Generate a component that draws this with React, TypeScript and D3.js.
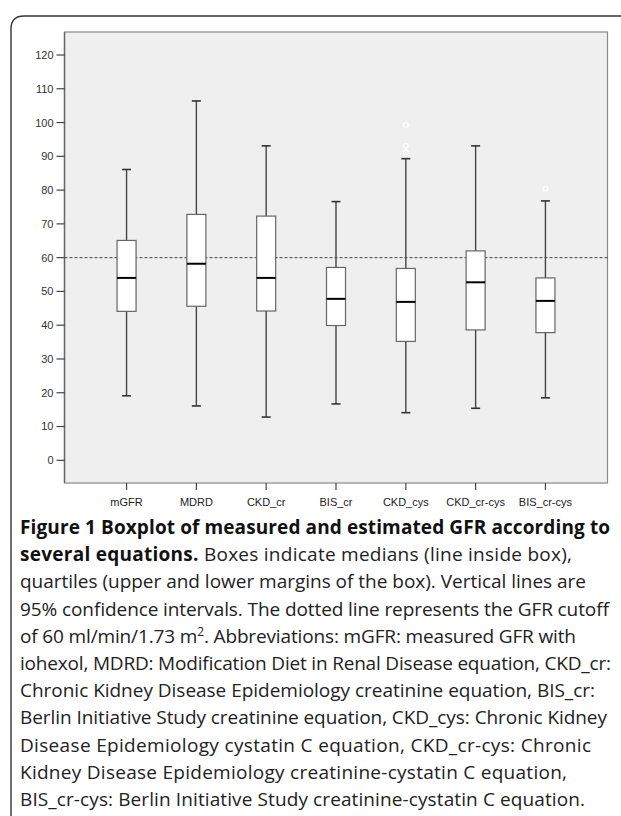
import React from "react";
import * as d3 from "d3";

const categories = ["mGFR", "MDRD", "CKD_cr", "BIS_cr", "CKD_cys", "CKD_cr-cys", "BIS_cr-cys"];
const whiskerLow = [19.1, 16.1, 12.8, 16.7, 14.1, 15.4, 18.5];
const q1 = [44.1, 45.6, 44.2, 39.9, 35.2, 38.6, 37.8];
const medians = [54.0, 58.2, 54.0, 47.8, 46.9, 52.7, 47.2];
const q3 = [65.1, 72.8, 72.3, 57.1, 56.8, 62.0, 54.0];
const whiskerHigh = [86.1, 106.4, 93.1, 76.6, 89.3, 93.1, 76.8];
const outlierCats = ["CKD_cys", "CKD_cys", "CKD_cys", "BIS_cr-cys"];
const outlierVals = [99.3, 93.1, 91.2, 80.4];
const yTicks = [0, 10, 20, 30, 40, 50, 60, 70, 80, 90, 100, 110, 120];
const cutoff = 60;

const captionLines: { bold?: string; text: string; sup?: string; after?: string }[] = [
  { bold: "Figure 1 Boxplot of measured and estimated GFR according to", text: "" },
  { bold: "several equations.", text: " Boxes indicate medians (line inside box)," },
  { text: "quartiles (upper and lower margins of the box). Vertical lines are" },
  { text: "95% confidence intervals. The dotted line represents the GFR cutoff" },
  { text: "of 60 ml/min/1.73 m", sup: "2", after: ". Abbreviations: mGFR: measured GFR with" },
  { text: "iohexol, MDRD: Modification Diet in Renal Disease equation, CKD_cr:" },
  { text: "Chronic Kidney Disease Epidemiology creatinine equation, BIS_cr:" },
  { text: "Berlin Initiative Study creatinine equation, CKD_cys: Chronic Kidney" },
  { text: "Disease Epidemiology cystatin C equation, CKD_cr-cys: Chronic" },
  { text: "Kidney Disease Epidemiology creatinine-cystatin C equation," },
  { text: "BIS_cr-cys: Berlin Initiative Study creatinine-cystatin C equation." },
];
const captionLineEnds = [610, 572, 586, 609, 576, 611, 595, 607, 591, 567, 585];

export default function App() {
  const W = 621;
  const H = 816;
  const plot = { left: 64.5, right: 607.5, top: 32, bottom: 483 };
  const y = d3.scaleLinear().domain([0, 120]).range([460.3, 55]);
  const x = d3.scalePoint<string>().domain(categories).range([plot.left, plot.right]).padding(0.889);
  const boxW = 19;
  const capW = 9;
  const axisFont = "'Liberation Sans', Arial, sans-serif";
  const capFont = "'Open Sans', 'Noto Sans', sans-serif";
  const lineH = 27.2;
  const firstBase = 534;
  const textX = 20;

  return (
    <svg width={W} height={H} style={{ position: "absolute", left: 0, top: 0, background: "#fff" }}>
      {/* outer frame */}
      <path d={`M11,${H + 5} L11,29 Q11,16 24,16 L${W + 5},16`} fill="none" stroke="#333" strokeWidth={1.4} />
      {/* plot background */}
      <rect x={plot.left} y={plot.top} width={plot.right - plot.left} height={plot.bottom - plot.top} fill="#efefef" stroke="#8a8a8a" strokeWidth={1.2} />
      <line x1={plot.left} x2={plot.left} y1={plot.top} y2={plot.bottom} stroke="#666" strokeWidth={1.4} />
      {/* y ticks */}
      {yTicks.map((t) => (
        <g key={t}>
          <line x1={plot.left - 8} x2={plot.left} y1={y(t)} y2={y(t)} stroke="#444" strokeWidth={1.2} />
          <text x={plot.left - 11} y={y(t)} dy="0.36em" textAnchor="end" fontFamily={axisFont} fontSize={11} fill="#333">{t}</text>
        </g>
      ))}
      {/* x ticks */}
      {categories.map((c) => (
        <g key={c}>
          <line x1={x(c)} x2={x(c)} y1={plot.bottom} y2={plot.bottom + 7} stroke="#444" strokeWidth={1.2} />
          <text x={x(c)} y={506} textAnchor="middle" fontFamily={axisFont} fontSize={11} fill="#222">{c}</text>
        </g>
      ))}
      {/* cutoff line */}
      <line x1={plot.left} x2={plot.right} y1={y(cutoff)} y2={y(cutoff)} stroke="#444" strokeWidth={1} strokeDasharray="3,2" />
      {/* boxes */}
      {categories.map((c, i) => {
        const cx = x(c)!;
        return (
          <g key={c}>
            <line x1={cx} x2={cx} y1={y(whiskerHigh[i])} y2={y(q3[i])} stroke="#444" strokeWidth={1.4} />
            <line x1={cx} x2={cx} y1={y(q1[i])} y2={y(whiskerLow[i])} stroke="#444" strokeWidth={1.4} />
            <line x1={cx - capW / 2} x2={cx + capW / 2} y1={y(whiskerHigh[i])} y2={y(whiskerHigh[i])} stroke="#333" strokeWidth={1.6} />
            <line x1={cx - capW / 2} x2={cx + capW / 2} y1={y(whiskerLow[i])} y2={y(whiskerLow[i])} stroke="#333" strokeWidth={1.6} />
            <rect x={cx - boxW / 2} y={y(q3[i])} width={boxW} height={y(q1[i]) - y(q3[i])} fill="#fff" stroke="#666" strokeWidth={1.2} />
            <line x1={cx - boxW / 2} x2={cx + boxW / 2} y1={y(medians[i])} y2={y(medians[i])} stroke="#000" strokeWidth={2} />
          </g>
        );
      })}
      {/* outliers */}
      {outlierVals.map((v, i) => (
        <circle key={i} cx={x(outlierCats[i])} cy={y(v)} r={2.4} fill="none" stroke="#fff" strokeWidth={1.1} />
      ))}
      {/* caption */}
      {captionLines.map((l, i) => (
        <text
          key={i}
          x={textX}
          y={firstBase + i * lineH}
          fontFamily={capFont}
          fontSize={19}
          fill="#222"
          textLength={captionLineEnds[i] - textX}
          lengthAdjust="spacing"
        >
          {l.bold ? <tspan fontWeight="bold" fill="#111">{l.bold}</tspan> : null}
          {l.text}
          {l.sup ? (
            <>
              <tspan dy={-7} fontSize={12}>{l.sup}</tspan>
              <tspan dy={7}>{l.after}</tspan>
            </>
          ) : null}
        </text>
      ))}
    </svg>
  );
}
